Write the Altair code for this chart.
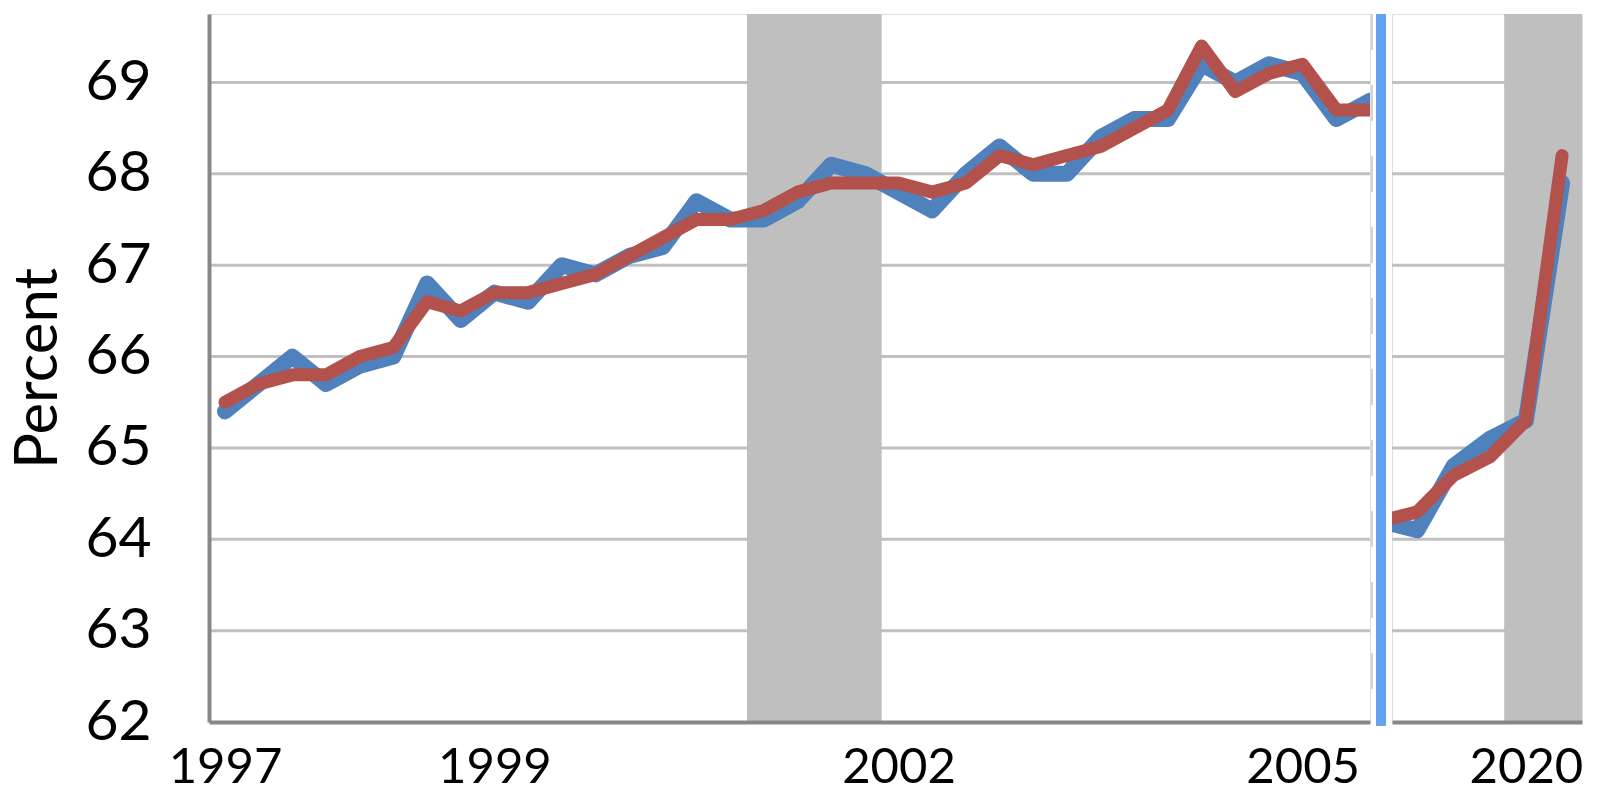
import altair as alt
import pandas as pd

# ---- data ----
# Panel 1: quarterly, 1997Q1 .. 2005Q3
blue_1 = [65.4, 65.7, 66.0, 65.7, 65.9, 66.0, 66.8, 66.4, 66.7, 66.6, 67.0, 66.9,
          67.1, 67.2, 67.7, 67.5, 67.5, 67.7, 68.1, 68.0, 67.8, 67.6, 68.0, 68.3,
          68.0, 68.0, 68.4, 68.6, 68.6, 69.2, 69.0, 69.2, 69.1, 68.6, 68.8]
red_1 = [65.5, 65.7, 65.8, 65.8, 66.0, 66.1, 66.6, 66.5, 66.7, 66.7, 66.8, 66.9,
         67.1, 67.3, 67.5, 67.5, 67.6, 67.8, 67.9, 67.9, 67.9, 67.8, 67.9, 68.2,
         68.1, 68.2, 68.3, 68.5, 68.7, 69.4, 68.9, 69.1, 69.2, 68.7, 68.7]
# Panel 2: quarterly, 2019Q1 .. 2020Q2
blue_2 = [64.2, 64.1, 64.8, 65.1, 65.3, 67.9]
red_2 = [64.2, 64.3, 64.7, 64.9, 65.3, 68.2]

tick_pos_1 = [0, 8, 20, 32]
tick_lab_1 = ["1997", "1999", "2002", "2005"]
tick_pos_2 = [4]
tick_lab_2 = ["2020"]

grid_values = [63, 64, 65, 66, 67, 68, 69]
y_ticks = [62, 63, 64, 65, 66, 67, 68, 69]

band_1 = {"start": 15.5, "end": 19.5}
band_2 = {"start": 3.4, "end": 5.55}

# ---- styles ----
BLUE = "#4F81BD"
RED = "#B3524C"
BAND = "#BFBFBF"
GRID = "#C0C0C0"
AXIS = "#878787"
SEP = "#62A3F0"
Y_MIN, Y_MAX = 62, 69.75

W1, W2, H = 1161, 190, 708


def label_expr(pos, lab):
    expr = "''"
    for p, l in reversed(list(zip(pos, lab))):
        expr = f"datum.value == {p} ? '{l}' : ({expr})"
    return expr


def panel(blue, red, ticks, labels, band, xdom, width, first):
    df = pd.DataFrame({"q": list(range(len(blue))), "nsa": blue, "sa": red})
    grid_df = pd.DataFrame({"g": grid_values})
    band_df = pd.DataFrame({"start": [band["start"]], "end": [band["end"]],
                            "lo": [Y_MIN], "hi": [Y_MAX]})

    xscale = alt.Scale(domain=xdom, nice=False, zero=False)
    yscale = alt.Scale(domain=[Y_MIN, Y_MAX], nice=False, zero=False)

    xaxis = alt.Axis(values=ticks, labelExpr=label_expr(ticks, labels), title=None,
                     ticks=False, grid=False, domainColor=AXIS, domainWidth=4,
                     labelFont="Lato", labelFontSize=49, labelColor="black",
                     labelPadding=21, labelFlush=False, zindex=1)
    if first:
        yaxis = alt.Axis(values=y_ticks, format="d", title="Percent", ticks=False,
                         grid=False, domainColor=AXIS, domainWidth=4, labelFont="Lato",
                         labelFontSize=57, labelColor="black", labelPadding=58,
                         titleFont="Lato", titleFontSize=60, titleFontWeight="normal",
                         titleColor="black", titlePadding=15, zindex=1)
    else:
        yaxis = None

    grid = alt.Chart(grid_df).mark_rule(color=GRID, strokeWidth=3).encode(
        y=alt.Y("g:Q", scale=yscale, axis=yaxis)
    )
    bands = alt.Chart(band_df).mark_rect(color=BAND).encode(
        x=alt.X("start:Q", scale=xscale, axis=xaxis),
        x2="end:Q",
        y=alt.Y("lo:Q", scale=yscale),
        y2="hi:Q",
    )
    line_b = alt.Chart(df).mark_line(color=BLUE, strokeWidth=16, strokeCap="round",
                                     strokeJoin="round", clip=True).encode(
        x=alt.X("q:Q", scale=xscale), y=alt.Y("nsa:Q", scale=yscale))
    line_r = alt.Chart(df).mark_line(color=RED, strokeWidth=13, strokeCap="round",
                                     strokeJoin="round", clip=True).encode(
        x=alt.X("q:Q", scale=xscale), y=alt.Y("sa:Q", scale=yscale))

    layers = [grid, bands, line_b, line_r]
    if first:
        edge = alt.Chart(band_df).mark_rule(color="#C8C8C8", strokeWidth=1.5,
                                            strokeDash=[36, 35]).encode(
            x=alt.value(width + 2), y=alt.value(0), y2=alt.value(H))
        layers.append(edge)
    else:
        sep = alt.Chart(band_df).mark_rule(color=SEP, strokeWidth=10).encode(
            x=alt.value(-11), y=alt.value(0), y2=alt.value(H + 4))
        layers.append(sep)
    return alt.layer(*layers).properties(width=width, height=H)


p1 = panel(blue_1, red_1, tick_pos_1, tick_lab_1, band_1, [-0.475, 34.0], W1, True)
p2 = panel(blue_2, red_2, tick_pos_2, tick_lab_2, band_2, [0.3, 5.55], W2, False)

chart = alt.hconcat(p1, p2, spacing=22, bounds="flush").resolve_scale(
    x="independent", y="independent"
).properties(
    padding={"left": 0, "top": 0, "right": 0, "bottom": 0}
).configure_view(stroke=None).configure(background="white")

chart.save("out.html", embed_options={"renderer": "svg", "actions": False})
